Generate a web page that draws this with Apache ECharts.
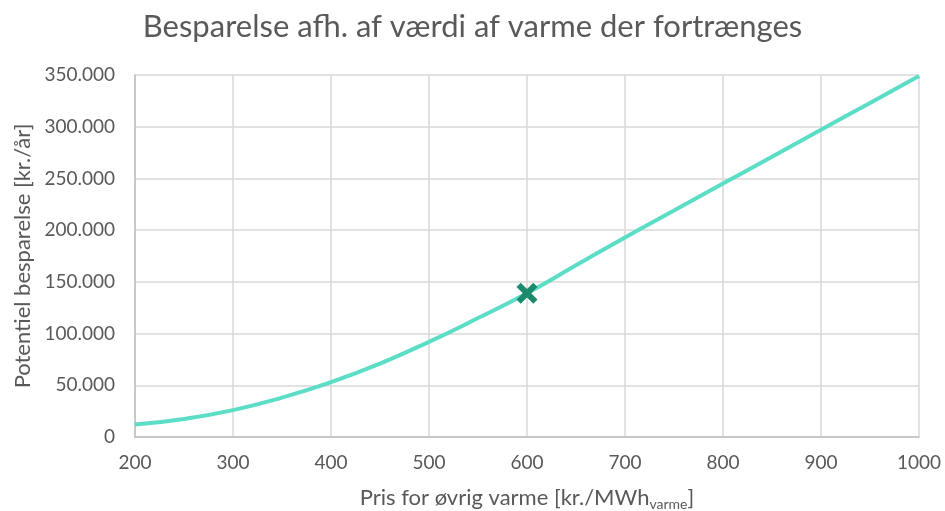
<!DOCTYPE html>
<html><head><meta charset="utf-8">
<script src="https://cdn.jsdelivr.net/npm/echarts@6/dist/echarts.min.js"></script>
<style>html,body{margin:0;padding:0;background:#fff}#c{width:945px;height:511px}</style>
</head><body><div id="c"></div>
<script>
const xValues = [200,250,300,350,400,450,500,550,600,650,700,750,800,850,900,950,1000];
const savings = [12000,17500,26000,38000,53000,71000,92000,115000,139000,166000,193000,219000,245000,271000,297000,323000,349000];
const markerPoint = [600, 139000];
const fontFam = 'Lato, "Open Sans", sans-serif';
const chart = echarts.init(document.getElementById('c'));
chart.setOption({
  animation:false,
  title:{text:'Besparelse afh. af værdi af varme der fortrænges',left:'center',top:6,
    textStyle:{fontFamily:fontFam,fontSize:31,fontWeight:'normal',color:'#595959'}},
  grid:{left:135,right:26,top:75,bottom:74,containLabel:false,outerBoundsMode:'none'},
  xAxis:{type:'value',min:200,max:1000,interval:100,
    name:'Pris for øvrig varme [kr./MWh{sub|varme}]',nameLocation:'middle',nameGap:48,
    nameTextStyle:{fontFamily:fontFam,fontSize:22,color:'#595959',rich:{sub:{fontFamily:fontFam,fontSize:14,color:'#595959',verticalAlign:'bottom',padding:[12,0,0,0]}}},
    axisLine:{lineStyle:{color:'#BFBFBF',width:1.5}},axisTick:{show:false},
    axisLabel:{fontFamily:fontFam,fontSize:19,color:'#595959',margin:16,formatter:v=>String(v)},
    splitLine:{lineStyle:{color:'#D9D9D9',width:1.5}}},
  yAxis:{type:'value',min:0,max:350000,interval:50000,
    name:'Potentiel besparelse [kr./år]',nameLocation:'middle',nameGap:100,
    nameTextStyle:{fontFamily:fontFam,fontSize:22,color:'#595959'},
    axisLine:{show:true,lineStyle:{color:'#BFBFBF',width:1.5}},axisTick:{show:false},
    axisLabel:{fontFamily:fontFam,fontSize:19,color:'#595959',margin:20,
      formatter:v=>String(v).replace(/\B(?=(\d{3})+(?!\d))/g,'.')},
    splitLine:{lineStyle:{color:'#D9D9D9',width:1.5}}},
  series:[
    {type:'line',smooth:true,showSymbol:false,data:xValues.map((x,i)=>[x,savings[i]]),
      lineStyle:{color:'#5BDDC6',width:4}},
    {type:'scatter',data:[markerPoint],symbol:'path://M0,4 L4,0 L10,6 L16,0 L20,4 L14,10 L20,16 L16,20 L10,14 L4,20 L0,16 L6,10 Z',
      symbolSize:21,itemStyle:{color:'#1C8A6D',opacity:1},z:5}
  ]
});
</script></body></html>
